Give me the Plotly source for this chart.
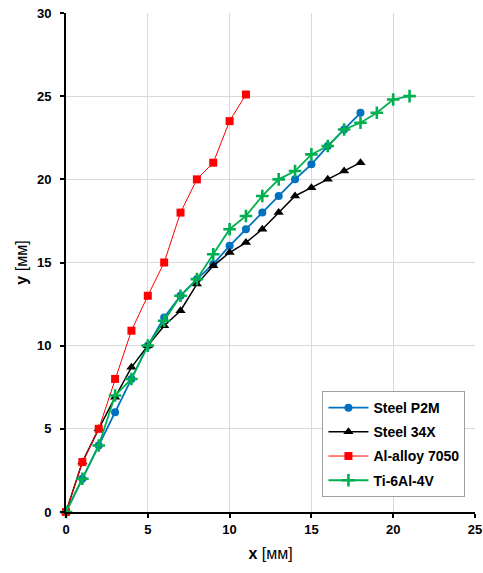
import plotly.graph_objects as go

# Displacement measurements, x and y in millimetres
x_p2m = [0, 1, 2, 3, 4, 5, 6, 7, 8, 9, 10, 11, 12, 13, 14, 15, 16, 17, 18]
y_p2m = [0, 2, 4, 6, 8, 10, 11.7, 13, 14, 14.9, 16, 17, 18, 19, 20, 20.9, 22, 23, 24]

x_34x = [0, 1, 2, 3, 4, 5, 6, 7, 8, 9, 10, 11, 12, 13, 14, 15, 16, 17, 18]
y_34x = [0, 3, 5, 6.9, 8.7, 10, 11.2, 12.1, 13.7, 14.8, 15.6, 16.2, 17, 18, 19, 19.5, 20, 20.5, 21]

x_al = [0, 1, 2, 3, 4, 5, 6, 7, 8, 9, 10, 11]
y_al = [0, 3, 5, 8, 10.9, 13, 15, 18, 20, 21, 23.5, 25.1]

x_ti = [0, 1, 2, 3, 4, 5, 6, 7, 8, 9, 10, 11, 12, 13, 14, 15, 16, 17, 18, 19, 20, 21]
y_ti = [0, 2, 4, 7, 8, 10, 11.5, 13, 14, 15.5, 17, 17.8, 19, 20, 20.5, 21.5, 22, 23, 23.4, 24, 24.8, 25]

tick_vals_x = [0, 5, 10, 15, 20, 25]
tick_vals_y = [0, 5, 10, 15, 20, 25, 30]

FONT = "Liberation Sans, Arial, sans-serif"

fig = go.Figure()

fig.add_trace(go.Scatter(
    x=x_p2m, y=y_p2m, name="<b>Steel P2M</b>", mode="lines+markers",
    legendgroup="p2m",
    line=dict(color="#0070C0", width=1.8),
    marker=dict(symbol="circle", size=8, color="#0070C0"),
    cliponaxis=False))
fig.add_trace(go.Scatter(
    x=x_34x, y=y_34x, name="<b>Steel 34X</b>", mode="lines+markers",
    legendgroup="34x",
    line=dict(color="#000000", width=1.5),
    marker=dict(symbol="triangle-up", size=9, color="#000000"),
    cliponaxis=False))
fig.add_trace(go.Scatter(
    x=x_al, y=y_al, name="<b>Al-alloy 7050</b>", mode="lines+markers",
    legendgroup="al",
    line=dict(color="#FF0000", width=1),
    marker=dict(symbol="square", size=8, color="#FF0000"),
    cliponaxis=False))
fig.add_trace(go.Scatter(
    x=x_ti, y=y_ti, name="<b>Ti-6Al-4V</b>", mode="lines+markers",
    legendgroup="ti",
    line=dict(color="#00B050", width=1.8),
    marker=dict(symbol="cross-thin", size=9, color="#00B050",
                line=dict(color="#00B050", width=2.6)),
    cliponaxis=False))

axis_font = dict(family=FONT, size=13, color="#000000")

fig.update_layout(
    width=483, height=573,
    margin=dict(l=66, r=8, t=13, b=61),
    plot_bgcolor="white", paper_bgcolor="white",
    showlegend=True,
    legend=dict(
        x=0.627, y=0.03, xanchor="left", yanchor="bottom",
        bgcolor="white", bordercolor="#A0A0A0", borderwidth=1,
        font=dict(family=FONT, size=14, color="#000000"),
        traceorder="grouped", tracegroupgap=3, itemwidth=40,
    ),
    xaxis=dict(
        range=[0, 25], tickvals=tick_vals_x,
        ticktext=[f"<b>{v}</b>" for v in tick_vals_x],
        showgrid=True, gridcolor="#D9D9D9", gridwidth=1,
        showline=True, linecolor="#000000", linewidth=2,
        ticks="outside", ticklen=4, tickwidth=2, tickcolor="#000000",
        zeroline=False, tickfont=axis_font, automargin=False,
        title=dict(text="<b>x</b> [мм]", font=dict(family=FONT, size=16, color="#000000"), standoff=12),
    ),
    yaxis=dict(
        range=[0, 30], tickvals=tick_vals_y,
        ticktext=[f"<b>{v}</b>" for v in tick_vals_y],
        showgrid=True, gridcolor="#D9D9D9", gridwidth=1,
        showline=True, linecolor="#000000", linewidth=2,
        ticks="outside", ticklen=4, tickwidth=2, tickcolor="#000000",
        ticklabelstandoff=6,
        zeroline=False, tickfont=axis_font, automargin=False,
        title=dict(text="<b>y</b> [мм]", font=dict(family=FONT, size=16, color="#000000"), standoff=5),
    ),
)

fig.write_html("out.html")
